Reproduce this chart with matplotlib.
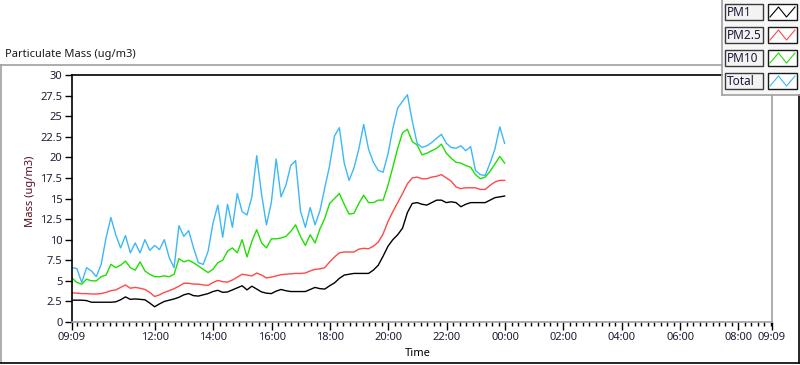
import numpy as np
import pandas as pd
import matplotlib
matplotlib.use("Agg")
import matplotlib.pyplot as plt
import matplotlib.dates as mdates
from matplotlib.lines import Line2D
from matplotlib.patches import Rectangle

plt.rcParams["font.family"] = ["Noto Sans", "DejaVu Sans"]

# ---- data: 10-minute readings starting 09:09 ----
start = pd.Timestamp("2020-01-01 09:09")
step_min = 10

pm1 = [2.65, 2.65, 2.65, 2.6, 2.4, 2.4, 2.4, 2.4, 2.4, 2.45,
       2.7, 3.05, 2.75, 2.8, 2.75, 2.7, 2.3, 1.85, 2.2, 2.5,
       2.65, 2.8, 3.0, 3.3, 3.45, 3.2, 3.15, 3.3, 3.45, 3.7,
       3.85, 3.6, 3.65, 3.9, 4.15, 4.4, 3.9, 4.35, 4.0, 3.65,
       3.5, 3.45, 3.75, 3.95, 3.8, 3.7, 3.7, 3.7, 3.7, 3.95,
       4.2, 4.05, 4.0, 4.4, 4.75, 5.3, 5.7, 5.8, 5.9, 5.9,
       5.9, 5.9, 6.3, 6.9, 8.0, 9.2, 10.0, 10.6, 11.4, 13.3,
       14.4, 14.5, 14.3, 14.2, 14.5, 14.8, 14.8, 14.5, 14.6, 14.5,
       14.0, 14.3, 14.5, 14.5, 14.5, 14.5, 14.8, 15.1, 15.2, 15.3]

pm25 = [3.55, 3.5, 3.45, 3.45, 3.4, 3.4, 3.45, 3.6, 3.8, 3.9,
        4.2, 4.5, 4.1, 4.2, 4.1, 3.95, 3.6, 3.1, 3.3, 3.6,
        3.8, 4.05, 4.35, 4.7, 4.7, 4.6, 4.6, 4.5, 4.45, 4.8,
        5.05, 4.9, 4.85, 5.1, 5.45, 5.8, 5.7, 5.6, 5.95, 5.7,
        5.35, 5.45, 5.6, 5.75, 5.8, 5.85, 5.9, 5.9, 5.95, 6.2,
        6.4, 6.45, 6.6, 7.3, 7.9, 8.4, 8.5, 8.5, 8.5, 8.85,
        8.95, 8.9, 9.2, 9.7, 10.7, 12.2, 13.4, 14.5, 15.6, 16.8,
        17.5, 17.6, 17.4, 17.4, 17.6, 17.7, 17.9, 17.5, 17.1, 16.4,
        16.2, 16.3, 16.3, 16.3, 16.1, 16.1, 16.6, 17.0, 17.2, 17.2]

pm10 = [5.35, 4.8, 4.6, 5.2, 5.0, 5.0, 5.5, 5.7, 7.0, 6.6,
        6.9, 7.4, 6.6, 6.3, 7.3, 6.2, 5.8, 5.5, 5.5, 5.6,
        5.5, 5.8, 7.7, 7.3, 7.5, 7.2, 6.8, 6.4, 6.0, 6.4,
        7.2, 7.5, 8.6, 9.0, 8.4, 10.0, 7.9, 9.8, 11.2, 9.6,
        9.0, 10.1, 10.1, 10.2, 10.4, 11.0, 11.8, 10.4, 9.3, 10.6,
        9.6, 11.3, 12.6, 14.4, 15.0, 15.6, 14.3, 13.1, 13.2, 14.4,
        15.4, 14.5, 14.5, 14.8, 14.8, 16.6, 18.8, 21.1, 23.0, 23.4,
        21.9, 21.5, 20.3, 20.5, 20.8, 21.1, 21.6, 20.5, 19.9, 19.4,
        19.3, 19.0, 18.8, 17.9, 17.4, 17.6, 18.3, 19.2, 20.1, 19.3]

total = [6.6, 6.5, 4.8, 6.6, 6.2, 5.5, 7.0, 10.2, 12.7, 10.6,
         9.0, 10.5, 8.4, 9.6, 8.4, 10.0, 8.7, 9.3, 8.8, 10.0,
         7.8, 6.6, 11.7, 10.4, 11.1, 9.0, 7.2, 7.0, 8.6, 12.0,
         14.2, 10.3, 14.3, 11.5, 15.6, 13.4, 13.0, 15.2, 20.2, 15.5,
         11.8, 14.5, 19.8, 15.2, 16.6, 19.0, 19.6, 13.5, 11.5, 13.9,
         11.8, 13.5, 16.3, 19.0, 22.6, 23.6, 19.3, 17.2, 18.7, 21.0,
         24.0, 21.0, 19.4, 18.4, 18.2, 20.4, 23.5, 26.0, 26.8, 27.6,
         24.4, 21.7, 21.2, 21.4, 21.8, 22.3, 22.8, 21.7, 21.2, 21.1,
         21.4, 20.8, 21.3, 18.4, 17.9, 17.8, 19.3, 21.0, 23.7, 21.7]

names = ["PM1", "PM2.5", "PM10", "Total"]
colors = ["#000000", "#ff4848", "#1ee000", "#3cb8f6"]
series = [pm1, pm25, pm10, total]

times = start + pd.to_timedelta(np.arange(len(pm1)) * step_min, unit="min")
t0, t1 = start, start + pd.Timedelta(hours=24)

W, H = 800, 365
fig = plt.figure(figsize=(W / 100, H / 100), dpi=100)


def fx(x):
    return x / W


def fy(y):
    return 1 - y / H


FS = 8.0
txtcol = "#1a1f33"

ax = fig.add_axes([fx(72), fy(322), fx(772) - fx(72), fy(75) - fy(322)])
for vals, c in zip(series, colors):
    ax.plot(times, vals, color=c, lw=1.0)

ax.set_xlim(t0, t1)
ax.set_ylim(0, 30)

# y axis
yt = np.arange(0, 30.01, 2.5)
ax.set_yticks(yt)
ax.set_yticklabels([f"{v:g}" for v in yt])
ax.tick_params(axis="y", direction="out", length=5, width=1, pad=2,
               labelsize=FS, labelcolor=txtcol, colors="black")

# x axis: LabVIEW-like ticks
noon = pd.Timestamp("2020-01-01 12:00")
majors = [t0] + [noon + pd.Timedelta(hours=2 * i) for i in range(11)] + [t1]
ax.set_xticks(majors)
ax.xaxis.set_major_formatter(mdates.DateFormatter("%H:%M"))
minors = [noon + pd.Timedelta(minutes=120 / 9 * n) for n in range(-12, 97)]
minors = [m for m in minors if t0 < m < t1]
ax.set_xticks(minors, minor=True)
ax.tick_params(axis="x", which="major", direction="out", length=6, width=1,
               pad=1.5, labelsize=FS, labelcolor=txtcol)
ax.tick_params(axis="x", which="minor", direction="out", length=3, width=1)

ax.spines["left"].set_color("black")
ax.spines["left"].set_linewidth(1.2)
for s in ["bottom", "right"]:
    ax.spines[s].set_color("#a0a0a0")
    ax.spines[s].set_linewidth(1.2)
ax.spines["top"].set_visible(False)

fig.text(fx(418), fy(354), "Time", ha="center", va="center", fontsize=FS, color="black")
fig.text(fx(31), fy(191), "Mass (ug/m3)", rotation=90, ha="center", va="center",
         fontsize=FS, color="#551020")
fig.text(fx(5), fy(55), "Particulate Mass (ug/m3)", ha="left", va="center",
         fontsize=FS, color="#1a1a1a")

# panel frame lines
fig.add_artist(Line2D([fx(0), fx(722)], [fy(65), fy(65)], color="#a0a0a0", lw=1.2))
fig.add_artist(Line2D([fx(72), fx(722)], [fy(75), fy(75)], color="black", lw=1.2))
fig.add_artist(Line2D([fx(0.6), fx(0.6)], [fy(65), fy(362)], color="#a0a0a0", lw=1.2))
fig.add_artist(Line2D([fx(0), fx(799)], [fy(362.5), fy(362.5)], color="black", lw=1.2))
fig.add_artist(Line2D([fx(798.5), fx(798.5)], [fy(95), fy(362.5)], color="black", lw=1.2))

# legend panel
fig.add_artist(Rectangle((fx(722), fy(95)), fx(800) - fx(722), fy(0) - fy(95),
                         facecolor="#f7f7f7", edgecolor="none"))
fig.add_artist(Line2D([fx(722), fx(722)], [fy(0), fy(95)], color="#a0a0a0", lw=1.2))
fig.add_artist(Line2D([fx(722), fx(800)], [fy(95), fy(95)], color="#a0a0a0", lw=1.2))
row_top = [4, 27, 50, 73]
for name, c, ytop in zip(names, colors, row_top):
    fig.add_artist(Rectangle((fx(725), fy(ytop + 16)), fx(763) - fx(725), fy(ytop) - fy(ytop + 16),
                             facecolor="#f3f3f3", edgecolor="#3a3a3a", lw=1.0))
    fig.text(fx(727), fy(ytop + 8.5), name, ha="left", va="center", fontsize=8.5, color="#1c1838")
    fig.add_artist(Rectangle((fx(768), fy(ytop + 16)), fx(797) - fx(768), fy(ytop) - fy(ytop + 16),
                             facecolor="white", edgecolor="#1a1a1a", lw=1.0))
    zx = [770, 778.5, 786.5, 795]
    zy = [ytop + 13, ytop + 3, ytop + 13, ytop + 3]
    fig.add_artist(Line2D([fx(v) for v in zx], [fy(v) for v in zy], color=c, lw=0.8))

fig.savefig("out.png", dpi=100, facecolor="white")
